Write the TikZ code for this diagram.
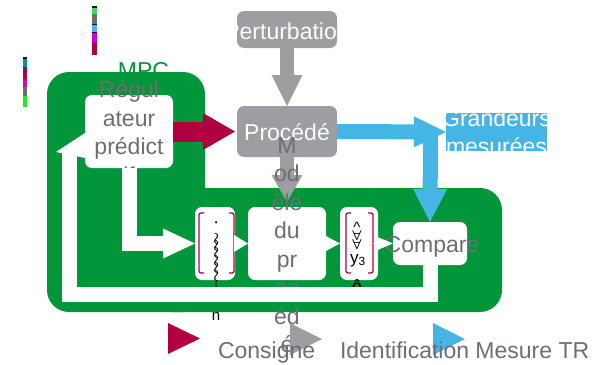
\documentclass[tikz,border=0pt]{standalone}
\usepackage{fontspec}
\setmainfont{Liberation Sans}
\usetikzlibrary{arrows.meta}
\usetikzlibrary{calc}
\definecolor{mpcgreen}{RGB}{0,150,57}
\definecolor{consred}{RGB}{176,0,64}
\definecolor{procgray}{RGB}{157,158,162}
\definecolor{mesblue}{RGB}{69,181,230}
\definecolor{txtgray}{RGB}{109,110,114}
\definecolor{barblack}{RGB}{20,20,20}
\definecolor{bargreen}{RGB}{60,220,90}
\definecolor{bargray}{RGB}{110,110,110}
\definecolor{barblue}{RGB}{74,180,230}
\definecolor{barmag}{RGB}{204,0,204}
\definecolor{barteal}{RGB}{0,150,150}
\definecolor{barlime}{RGB}{30,235,30}
\newcommand{\bigfont}{\fontsize{23}{28.5}\selectfont}
\newcommand{\head}[2] % length, width in pt
{-{Triangle[length=#1pt,width=#2pt,line width=0pt]}}

\begin{document}
\begin{tikzpicture}[x=1pt, y=-1pt,
	every node/.style={inner sep=0pt, outer sep=0pt},
	box/.style 2 args={rounded corners=7pt, minimum width=#1, minimum height=#2},
	lbl/.style={font=\bigfont},
	fat/.style={line width=#1, line cap=butt}]
	\useasboundingbox (0,0) rectangle (610,364);
	% legend swatches
	\foreach \ya/\yb/\c in {6/7.5/barblack, 7.5/14/bargreen, 14/24/bargray, 24/25/barblack,
		25/32/barblue, 32/33/barblack, 33/43/barmag, 43/55/consred}
		\fill[\c] (92,\ya) rectangle (97,\yb);
	\foreach \ya/\yb/\c in {57/59/barblack, 59/67/barteal, 67/79/consred, 79/87/barmag,
		87/96/bargray, 96/107/barlime}
		\fill[\c] (23,\ya) rectangle (27,\yb);
	% MPC frame
	\node[lbl, text=mpcgreen, anchor=base] (mpctxt) at (143.5,78) {MPC};
	\fill[mpcgreen, rounded corners=22pt] (47,72) rectangle (205,312);
	\fill[mpcgreen, rounded corners=22pt] (150,188) rectangle (502,312);
	% process
	\node[box={100pt}{37pt}, fill=procgray] (pert) at (287,29.5) {};
	\begin{scope}
		\clip[rounded corners=7pt] (pert.north west) rectangle (pert.south east);
		\node[lbl, text=white, anchor=base] (perttxt) at (287,39.5) {Perturbation};
	\end{scope}
	\node[box={100pt}{51pt}, fill=procgray] (proc) at (287,131.5) {};
	\node[lbl, text=white, anchor=base] (proctxt) at (287,140) {Procédé};
	\draw[procgray, fat=14pt, \head{31}{31}] (pert.south) -- (proc.north);
	\draw[procgray, fat=14pt, shorten >=5pt, \head{27}{31}] (proc.south) -- (287,207);
	% measured outputs
	\node[box={101pt}{38pt}, fill=mesblue, sharp corners] (mes) at (496.5,132) {};
	\begin{scope}
		\clip (mes.north west) rectangle (mes.south east);
		\node[lbl, text=white, anchor=base, align=center] (mestxt) at (496.5,154.5) {Grandeurs\\mesurées};
	\end{scope}
	\coordinate (split) at (430.5,131.5);
	% controller and model
	\node[box={88pt}{73pt}, fill=white] (regul) at (129,131.5) {};
	\node[lbl, text=txtgray, anchor=base, align=center] (regultxt) at (129,183) {Régul\\ateur\\prédict\\if};
	\draw[consred, fat=20pt, shorten >=2pt, \head{32}{37}] (regul.east) -- (proc.west);
	\node[box={40pt}{73pt}, fill=white] (vecu) at (215,243.5) {};
	\node[box={78pt}{73pt}, fill=white] (modele) at (287,243.5) {};
	\node[box={38pt}{73pt}, fill=white] (vecy) at (359,243.5) {};
	\node[box={74pt}{43pt}, fill=white] (comp) at (430,243.5) {};
	\node[lbl, text=txtgray, anchor=base] (comptxt) at (432,252.7) {Compare};
	\draw[mesblue, fat=15pt, \head{32}{31}] (proc.east) -- (mes.west);
	\draw[mesblue, fat=15pt, \head{33}{34}] (split) -- (comp.north);
	\draw[white, fat=15pt, \head{32}{30}] (regul.south) |- (vecu.west);
	\node[lbl, text=txtgray, anchor=base, align=center] (modtxt) at (287,352.5) {M\\od\\èle\\du\\pr\\oc\\éd\\é};
	% vectors
	\draw[consred, line width=1.3pt, rounded corners=2pt] (204,213) -- (199,213) -- (199,273) -- (204,273);
	\draw[consred, line width=1.3pt, rounded corners=2pt] (229,213) -- (234,213) -- (234,273) -- (229,273);
	\draw[consred, line width=1.3pt, rounded corners=2pt] (351,213) -- (346,213) -- (346,273) -- (351,273);
	\draw[consred, line width=1.3pt, rounded corners=2pt] (368,213) -- (373,213) -- (373,273) -- (368,273);
	\node[rotate=-90, font=\fontsize{15}{15}\selectfont\boldmath] (vecutxt) at (216,258) {$\cdot\,\sim\!\!\sim\!\!\sim\!\!\sim\!\!\sim\!\!\sim\!\rightarrow$};
	\node[anchor=base, font=\fontsize{15}{15}\selectfont] (vecun) at (216,320) {n};
	\node[anchor=base, font=\fontsize{15}{15}\selectfont] (yhat) at (357,232) {\^{}};
	\node[anchor=base, font=\fontsize{14}{14}\selectfont\boldmath] (yall1) at (357,240) {$\forall$};
	\node[anchor=base, font=\fontsize{14}{14}\selectfont\boldmath] (yall2) at (357,249) {$\forall$};
	\node[anchor=base, font=\fontsize{17}{17}\selectfont] (yy) at (358,263) {y\textsubscript{3}};
	\node[anchor=base, font=\fontsize{16}{16}\selectfont\bfseries] (yo) at (357,291) {ô};
	\draw[white, line width=0.1pt, \head{14}{17}] (vecu.east) -- (modele.west);
	\draw[white, line width=0.1pt, \head{16}{17}] ([xshift=-3pt]modele.east) -- (vecy.west);
	\draw[white, line width=0.1pt, \head{19}{16}] ([xshift=-5pt]vecy.east) -- (comp.west);
	% feedback
	\coordinate (fbl) at (69.5,294.5);
	\coordinate (fbtop) at (69.5,152);
	\draw[white, fat=15pt] (comp.south) -- (comp.south |- fbl) -- (fbl) -- (fbtop);
	\fill[white] (56,152) -- (85,133) -- (85,158) -- cycle;
	% legend
	\fill[consred] (168,323) -- (200,338.5) -- (168,354) -- cycle;
	\fill[procgray] (290,323) -- (322,339) -- (290,355) -- cycle;
	\fill[mesblue] (433,323) -- (465,339) -- (433,355) -- cycle;
	\node[lbl, text=txtgray, anchor=base west] (legcons) at (218,358) {Consigne};
	\node[lbl, text=txtgray, anchor=base west] (legid) at (340,358) {Identification Mesure TR};
\end{tikzpicture}
\end{document}
